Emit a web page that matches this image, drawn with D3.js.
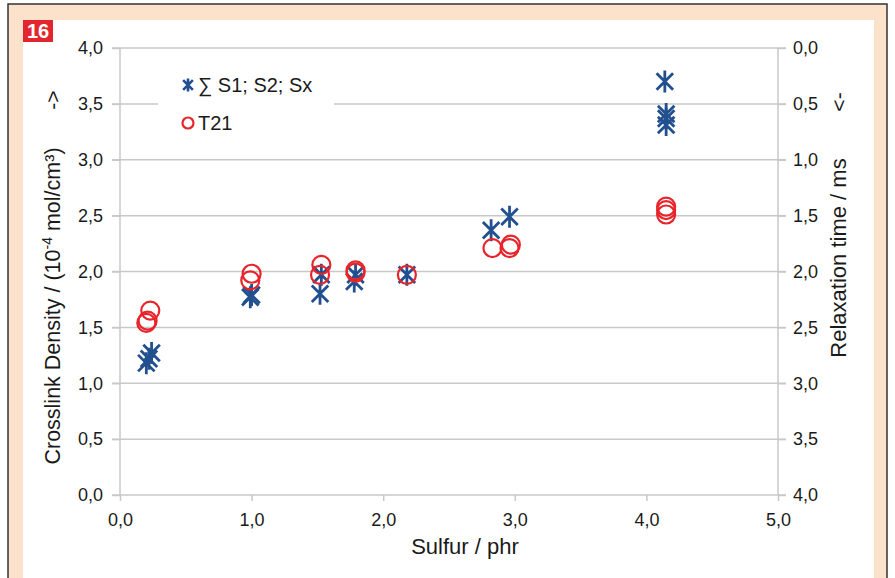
<!DOCTYPE html>
<html>
<head>
<meta charset="utf-8">
<script src="https://cdn.jsdelivr.net/npm/d3@7/dist/d3.min.js"></script>
<style>
body { margin: 0; background: white; }
text { font-family: "Liberation Sans", Arial, sans-serif; fill: #1a1a1a; }
.grid line { stroke: #c8c8c8; stroke-width: 1.5; }
.axis path { display: none; }
.axis line { stroke: #c8c8c8; stroke-width: 1.5; }
.axis text { font-size: 18px; }
</style>
</head>
<body>
<script>
// Sulfur / phr and crosslink density (10^-4 mol/cm3), left axis
const sumS = [
  [0.20, 1.18], [0.22, 1.22], [0.24, 1.27],
  [0.99, 1.77], [1.00, 1.79],
  [1.52, 1.80], [1.53, 1.97],
  [1.78, 1.91], [1.79, 1.97],
  [2.18, 1.97],
  [2.82, 2.37], [2.96, 2.49],
  [4.14, 3.70], [4.15, 3.31], [4.15, 3.37], [4.15, 3.41]
];
// Sulfur / phr and T21 relaxation time (ms), right axis (reversed)
const t21 = [
  [0.20, 2.46], [0.21, 2.44], [0.23, 2.35],
  [0.99, 2.08], [1.00, 2.02],
  [1.52, 2.03], [1.53, 1.94],
  [1.79, 1.99], [1.79, 2.01],
  [2.18, 2.03],
  [2.83, 1.79], [2.96, 1.79], [2.97, 1.76],
  [4.15, 1.42], [4.15, 1.45], [4.15, 1.49]
];
const xTicks = [0, 1, 2, 3, 4, 5];
const yTicks = [0, 0.5, 1, 1.5, 2, 2.5, 3, 3.5, 4];
const fmt = d => d.toFixed(1).replace(".", ",");

const W = 895, H = 578;
const svg = d3.select("body").append("svg")
  .attr("width", W).attr("height", H);

// frame
svg.append("rect").attr("x", 0).attr("y", 0).attr("width", W).attr("height", H).attr("fill", "white");
svg.append("rect").attr("x", 8).attr("y", 4).attr("width", 879).attr("height", 590)
  .attr("fill", "#fde2cb").attr("stroke", "#333").attr("stroke-width", 1.5);
svg.append("rect").attr("x", 23).attr("y", 20).attr("width", 851).attr("height", 580).attr("fill", "white");
svg.append("rect").attr("x", 23).attr("y", 20).attr("width", 30).attr("height", 22).attr("fill", "#e3262d");
svg.append("text").attr("x", 38).attr("y", 38).attr("text-anchor", "middle")
  .style("font-size", "20px").style("font-weight", "bold").style("fill", "white").text("16");

const x = d3.scaleLinear().domain([0, 5]).range([120, 778]);
const yL = d3.scaleLinear().domain([0, 4]).range([495, 48]);
const yR = d3.scaleLinear().domain([0, 4]).range([48, 495]);

// gridlines
svg.append("g").attr("class", "grid")
  .selectAll("line").data(yTicks).join("line")
  .attr("x1", 112).attr("x2", 786)
  .attr("y1", d => yL(d)).attr("y2", d => yL(d));

// legend box hides the gridline behind it
svg.append("rect").attr("x", 158).attr("y", 64).attr("width", 176).attr("height", 78).attr("fill", "white");

svg.append("g").attr("class", "axis")
  .attr("transform", "translate(120,0)")
  .call(d3.axisLeft(yL).tickValues(yTicks).tickFormat(fmt).tickSize(8).tickPadding(9));
svg.append("g").attr("class", "axis")
  .attr("transform", "translate(778,0)")
  .call(d3.axisRight(yR).tickValues(yTicks).tickFormat(fmt).tickSize(8).tickPadding(7));
svg.append("g").attr("class", "axis")
  .attr("transform", "translate(0,495)")
  .call(d3.axisBottom(x).tickValues(xTicks).tickFormat(fmt).tickSize(6).tickPadding(12));

// vertical axis lines
[0, 5].forEach(v => {
  svg.append("line").attr("x1", x(v)).attr("x2", x(v)).attr("y1", 48).attr("y2", 495)
    .attr("stroke", "#c8c8c8").attr("stroke-width", 1.5);
});

const blue = "#22508f", red = "#e8242b";
function starX(cx, cy, r) {
  return `M${cx},${cy - r}L${cx},${cy + r}M${cx - r * 0.75},${cy - r * 0.75}L${cx + r * 0.75},${cy + r * 0.75}` +
         `M${cx - r * 0.75},${cy + r * 0.75}L${cx + r * 0.75},${cy - r * 0.75}`;
}

svg.append("g").selectAll("path").data(sumS).join("path")
  .attr("d", d => starX(x(d[0]), yL(d[1]), 11))
  .attr("stroke", blue).attr("stroke-width", 2.8).attr("fill", "none");

svg.append("g").selectAll("circle").data(t21).join("circle")
  .attr("cx", d => x(d[0])).attr("cy", d => yR(d[1])).attr("r", 9)
  .attr("stroke", red).attr("stroke-width", 2.2).attr("fill", "none");

// legend
svg.append("path").attr("d", starX(188, 85, 6.5)).attr("stroke", blue).attr("stroke-width", 2.6);
svg.append("text").attr("x", 198).attr("y", 92).style("font-size", "20px").text("∑ S1; S2; Sx");
svg.append("circle").attr("cx", 188).attr("cy", 123).attr("r", 5.5)
  .attr("stroke", red).attr("stroke-width", 2.2).attr("fill", "none");
svg.append("text").attr("x", 198).attr("y", 130).style("font-size", "20px").text("T21");

// axis titles
svg.append("text").attr("x", 465).attr("y", 554).attr("text-anchor", "middle")
  .style("font-size", "22px").text("Sulfur / phr");

const lt = svg.append("text").attr("transform", "translate(60,306) rotate(-90)")
  .attr("text-anchor", "middle").style("font-size", "21.5px");
lt.append("tspan").text("Crosslink Density / (10");
lt.append("tspan").attr("dy", -8).style("font-size", "14px").text("-4");
lt.append("tspan").attr("dy", 8).text(" mol/cm³)");
svg.append("text").attr("transform", "translate(60,100) rotate(-90)")
  .attr("text-anchor", "middle").style("font-size", "21px").text("->");

svg.append("text").attr("transform", "translate(846,258) rotate(-90)")
  .attr("text-anchor", "middle").style("font-size", "22px").text("Relaxation time / ms");
svg.append("text").attr("transform", "translate(846,102) rotate(-90)")
  .attr("text-anchor", "middle").style("font-size", "21px").text("<-");
</script>
</body>
</html>
